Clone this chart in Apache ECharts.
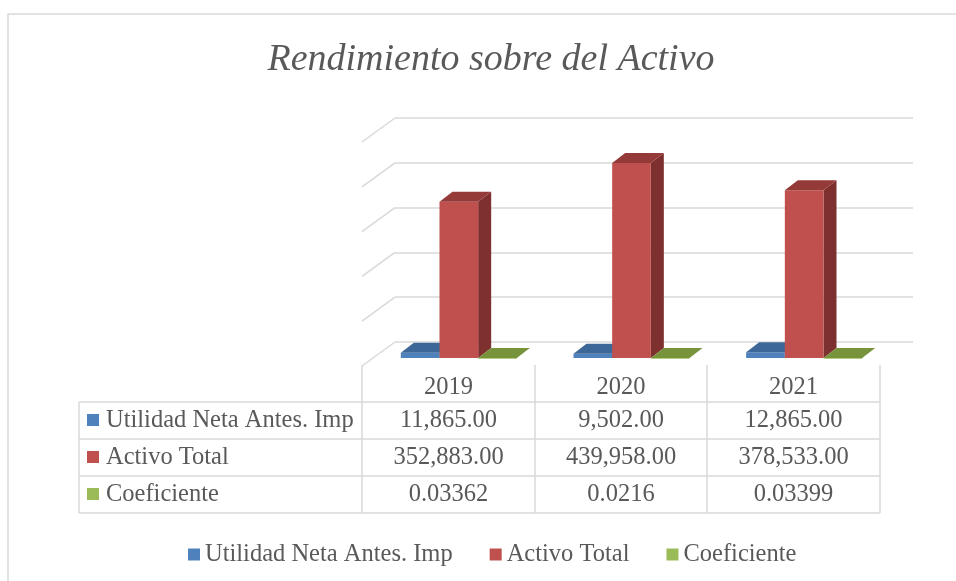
<!DOCTYPE html>
<html>
<head>
<meta charset="utf-8">
<script src="https://cdn.jsdelivr.net/npm/echarts@6/dist/echarts.min.js"></script>
<style>
html,body{margin:0;padding:0;background:#fff;}
#main{width:956px;height:581px;}
</style>
</head>
<body>
<div id="main"></div>
<script>
// ---- data ----
const categories = ['2019', '2020', '2021'];
const seriesNames = ['Utilidad Neta Antes. Imp', 'Activo Total', 'Coeficiente'];
const utilidad = [11865, 9502, 12865];
const activo = [352883, 439958, 378533];
const coeficiente = [0.03362, 0.0216, 0.03399];
const yMax = 500000;
const yInterval = 100000;
const yTicks = [0, 100000, 200000, 300000, 400000, 500000];

// ---- styles ----
const FONT = 'Liberation Serif';
const FS = 24.5;
const TXT = '#595959';
const LINE = '#d9d9d9';
const palette = [
  {front: '#4F81BD', top: '#3C6797', side: '#335A85'},
  {front: '#C0504D', top: '#943B39', side: '#7D302E'},
  {front: '#9BBB59', top: '#77933C', side: '#637B31'}
];
const DEPTH_DX = 13, DEPTH_DY = -10;
const WALL_DX = -33, WALL_DY = 24;

const fmt2 = v => v.toLocaleString('en-US', {minimumFractionDigits: 2, maximumFractionDigits: 2});
const tableRows = [
  utilidad.map(fmt2),
  activo.map(fmt2),
  coeficiente.map(v => String(v))
];
const allSeries = [utilidad, activo, coeficiente];

function barRenderer(k) {
  return function (params, api) {
    const i = api.value(0), v = api.value(1);
    const base = api.coord([i, 0]);
    const top = api.coord([i, v]);
    const bw = api.size([1, 0])[0] * 0.224;
    const x0 = base[0] + (k - 1.5) * bw;
    const x1 = x0 + bw;
    const yb = base[1], yt = top[1];
    const c = palette[k];
    return {
      type: 'group',
      children: [
        {type: 'polygon', shape: {points: [[x1, yt], [x1 + DEPTH_DX, yt + DEPTH_DY], [x1 + DEPTH_DX, yb + DEPTH_DY], [x1, yb]]}, style: {fill: c.side}},
        {type: 'rect', shape: {x: x0, y: yt, width: bw, height: Math.max(yb - yt, 0.8)}, style: {fill: c.front}},
        {type: 'polygon', shape: {points: [[x0, yt], [x1, yt], [x1 + DEPTH_DX, yt + DEPTH_DY], [x0 + DEPTH_DX, yt + DEPTH_DY]]}, style: {fill: c.top}}
      ]
    };
  };
}

function wallRenderer(params, api) {
  const v = api.value(1);
  const p = api.coord([0, v]);
  const x = params.coordSys.x;
  return {
    type: 'line',
    shape: {x1: x, y1: p[1], x2: x + WALL_DX, y2: p[1] + WALL_DY},
    style: {stroke: LINE, lineWidth: 1.5}
  };
}

// ---- table graphic ----
const colX = [362, 535, 707, 880];
const labelLeft = 79;
const headTop = 365;
const rowY = [402, 439, 476, 513];
const font = FS + 'px "' + FONT + '"';
const graphics = [];
graphics.push({type: 'rect', shape: {x: 8, y: 14, width: 970, height: 600}, style: {fill: 'none', stroke: LINE, lineWidth: 1.5}, silent: true});
colX.forEach(x => graphics.push({type: 'line', shape: {x1: x, y1: headTop, x2: x, y2: rowY[3]}, style: {stroke: LINE, lineWidth: 1.5}}));
graphics.push({type: 'line', shape: {x1: labelLeft, y1: rowY[0], x2: labelLeft, y2: rowY[3]}, style: {stroke: LINE, lineWidth: 1.5}});
rowY.forEach(y => graphics.push({type: 'line', shape: {x1: labelLeft, y1: y, x2: colX[3], y2: y}, style: {stroke: LINE, lineWidth: 1.5}}));
categories.forEach((c, j) => graphics.push({
  type: 'text', x: (colX[j] + colX[j + 1]) / 2, y: 388,
  style: {text: c, font: font, fill: TXT, textAlign: 'center', textVerticalAlign: 'middle'}
}));
seriesNames.forEach((name, r) => {
  const cy = (rowY[r] + rowY[r + 1]) / 2;
  graphics.push({type: 'rect', shape: {x: 87, y: cy - 6.5, width: 12, height: 12}, style: {fill: palette[r].front}});
  graphics.push({type: 'text', x: 106, y: cy, style: {text: name, font: font, fill: TXT, textAlign: 'left', textVerticalAlign: 'middle'}});
  tableRows[r].forEach((t, j) => graphics.push({
    type: 'text', x: (colX[j] + colX[j + 1]) / 2, y: cy,
    style: {text: t, font: font, fill: TXT, textAlign: 'center', textVerticalAlign: 'middle'}
  }));
});

const hiddenCat = {type: 'category', data: categories, axisLine: {show: false}, axisTick: {show: false}, axisLabel: {show: false}, splitLine: {show: false}};
const option = {
  animation: false,
  backgroundColor: '#fff',
  title: {
    text: 'Rendimiento sobre del Activo',
    left: 486, top: 36, textAlign: 'center',
    textStyle: {fontFamily: FONT, fontStyle: 'italic', fontWeight: 'normal', fontSize: 38, color: TXT}
  },
  legend: {
    data: seriesNames,
    left: 183, top: 537,
    icon: 'rect', itemWidth: 12, itemHeight: 12, itemGap: 37,
    textStyle: {fontFamily: FONT, fontSize: FS, color: TXT},
    selectedMode: false
  },
  grid: [
    {left: 395, width: 518, top: 118, height: 224},
    {left: 372.5, width: 518, top: 136.5, height: 221.5}
  ],
  xAxis: [
    Object.assign({gridIndex: 0}, hiddenCat),
    Object.assign({gridIndex: 1}, hiddenCat)
  ],
  yAxis: [
    {gridIndex: 0, type: 'value', min: 0, max: yMax, interval: yInterval, axisLine: {show: false}, axisTick: {show: false}, axisLabel: {show: false}, splitLine: {show: true, lineStyle: {color: LINE, width: 1.5}}},
    {gridIndex: 1, type: 'value', min: 0, max: yMax, interval: yInterval, axisLine: {show: false}, axisTick: {show: false}, axisLabel: {show: false}, splitLine: {show: false}}
  ],
  series: [
    {
      name: 'wall', type: 'custom', xAxisIndex: 0, yAxisIndex: 0, silent: true,
      renderItem: wallRenderer,
      data: yTicks.map(t => [0, t]), encode: {x: 0, y: 1}
    }
  ].concat(seriesNames.map((name, k) => ({
    name: name, type: 'custom', xAxisIndex: 1, yAxisIndex: 1, z: 3 + k,
    itemStyle: {color: palette[k].front},
    renderItem: barRenderer(k),
    data: allSeries[k].map((v, i) => [i, v]), encode: {x: 0, y: 1}
  }))),
  graphic: graphics
};
const chart = echarts.init(document.getElementById('main'), null, {renderer: 'canvas'});
chart.setOption(option);
</script>
</body>
</html>
